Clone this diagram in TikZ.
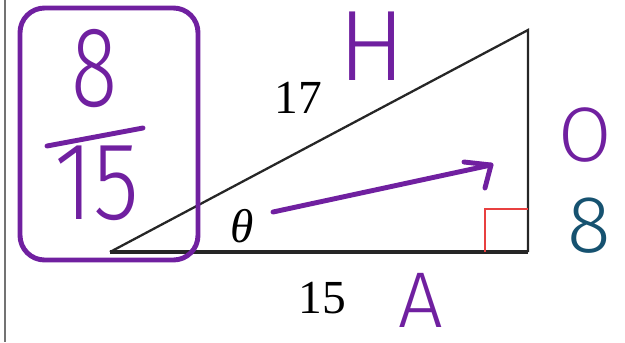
\documentclass[tikz,border=0pt]{standalone}
\usepackage{fontspec}
\setmainfont{Liberation Serif}
\newfontfamily\handfont{Fira Sans Light}
\usetikzlibrary{arrows.meta,positioning}
\definecolor{pen}{RGB}{112,32,160}
\definecolor{tealpen}{RGB}{22,82,112}
\definecolor{rightred}{RGB}{232,64,64}

\begin{document}
\begin{tikzpicture}[
  x=0.02cm, y=-0.02cm,
  side/.style={draw=black!85, line width=1.3pt},
  num/.style={inner sep=0pt, font=\fontsize{27}{30}\selectfont},
  hand/.style={inner sep=0pt, text=pen, font=\handfont\fontsize{#1}{#1}\selectfont},
  ink/.style={draw=pen, line width=2.8pt, line cap=round, line join=round},
]
\useasboundingbox (0,0) rectangle (625,342);

% page edge on the left
\draw[black!55, line width=1.2pt] (5,0) -- (5,342);

% the triangle
\coordinate (B) at (110,252);
\coordinate (C) at (528,252);
\coordinate (T) at (528,30);
\draw[side] (B) -- (T) -- (C);
\draw[side, line width=1.8pt] (B) -- (C);
\draw[rightred, line width=0.9pt] (C) ++(-43,0) |- ++(43,-43);

\node[num] (hyp) at (298,98) {17};
\node[num] (adj) at (322,298) {15};
\node[num, font=\itshape\fontsize{27}{30}\selectfont] (theta) at (242,226) {θ};

% handwriting
\node[hand=57] (lblH) at (372,46) {H};
\node[hand=44] (lblO) at (585,135) {O};
\node[hand=46, text=tealpen] (opp) at (589,226) {8};
\node[hand=45] (lblA) at (421,300) {A};

\coordinate (tail) at (273,212);
\coordinate (head) at (491,165);
\draw[ink] (tail) -- (head);
\draw[ink] (head) ++(-27,-3) -- (head) -- ++(-6,23);

% boxed answer
\draw[ink, rounded corners=14pt] (20,8) rectangle (198,260);
\node[hand=65, xscale=0.75] (eight) at (95,69) {8};
\node[hand=63, xscale=0.85] (fifteen) at (97,183) {15};
\draw[ink] (47,146) -- (143,128);

\end{tikzpicture}
\end{document}
